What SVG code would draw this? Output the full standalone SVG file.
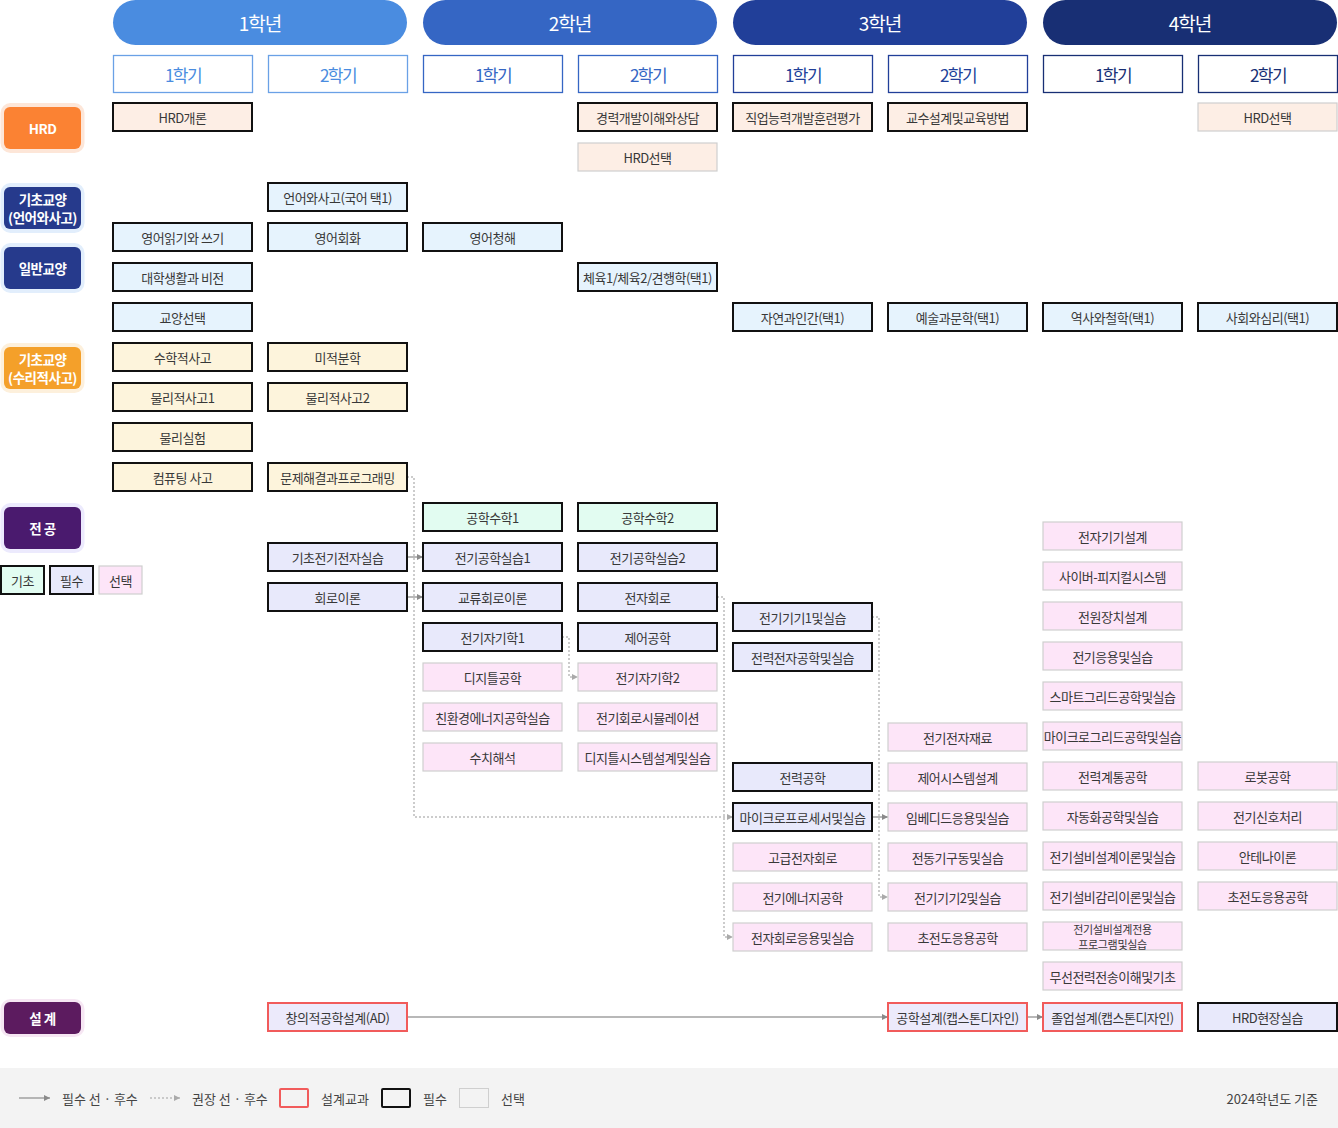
<svg xmlns="http://www.w3.org/2000/svg" width="1338" height="1128" viewBox="0 0 1338 1128">
<defs>
<style>
text{font-family:"Noto Sans CJK KR","Noto Sans",sans-serif;text-anchor:middle;dominant-baseline:central}
.t{font-size:13px;letter-spacing:-0.5px;fill:#383838}
.t2{font-size:11px;letter-spacing:-0.3px;fill:#383838}
.yr{font-size:19px;letter-spacing:-1px;fill:#fff}
.sm{font-size:17px;letter-spacing:-1.5px}
.cat{font-size:13.5px;font-weight:bold;fill:#fff;letter-spacing:-0.5px}
.lg{font-size:13px;fill:#444;text-anchor:start}
rect.n{width:139px;height:28px}
.hrd{fill:#fdeee5}.lib{fill:#e6f3fd}.mat{fill:#fdf4dc}.bas{fill:#e2fcf1}.req{fill:#e8e9fb}.opt{fill:#fde5f8}.des{fill:#eceafb}
.r{stroke:#111;stroke-width:2}
.o{stroke:#cfcfcf;stroke-width:1.2}
.d{stroke:#f15b5b;stroke-width:2}
.sol{fill:none;stroke:#a0a0a0;stroke-width:1.5}
.dot{fill:none;stroke:#bcbcbc;stroke-width:1.5;stroke-dasharray:2 2}
</style>
<marker id="ah" viewBox="0 0 6 6" refX="6" refY="3" markerWidth="6" markerHeight="6" markerUnits="userSpaceOnUse" orient="auto"><path d="M0,0 L6,3 L0,6 Z" fill="#8a8a8a"/></marker>
<marker id="ahl" viewBox="0 0 6 6" refX="6" refY="3" markerWidth="6" markerHeight="6" markerUnits="userSpaceOnUse" orient="auto"><path d="M0,0 L6,3 L0,6 Z" fill="#aaaaaa"/></marker>
</defs>
<rect width="1338" height="1128" fill="#fff"/>

<g id="years">
<rect x="113" y="0" width="294" height="45" rx="22.5" fill="#4a8ce0"/><text class="yr" x="260" y="22">1학년</text>
<rect x="423" y="0" width="294" height="45" rx="22.5" fill="#3566c4"/><text class="yr" x="570" y="22">2학년</text>
<rect x="733" y="0" width="294" height="45" rx="22.5" fill="#213f99"/><text class="yr" x="880" y="22">3학년</text>
<rect x="1043" y="0" width="294" height="45" rx="22.5" fill="#182f74"/><text class="yr" x="1190" y="22">4학년</text>
</g>
<g id="semesters" fill="#fff" stroke-width="1.3">
<rect x="113.5" y="55.5" width="139" height="37" stroke="#6aa1e6"/><text class="sm" x="183" y="74" fill="#4a8ce0">1학기</text>
<rect x="268.5" y="55.5" width="139" height="37" stroke="#6aa1e6"/><text class="sm" x="338" y="74" fill="#4a8ce0">2학기</text>
<rect x="423.5" y="55.5" width="139" height="37" stroke="#3566c4"/><text class="sm" x="493" y="74" fill="#3566c4">1학기</text>
<rect x="578.5" y="55.5" width="139" height="37" stroke="#3566c4"/><text class="sm" x="648" y="74" fill="#3566c4">2학기</text>
<rect x="733.5" y="55.5" width="139" height="37" stroke="#213f99"/><text class="sm" x="803" y="74" fill="#213f99">1학기</text>
<rect x="888.5" y="55.5" width="139" height="37" stroke="#213f99"/><text class="sm" x="958" y="74" fill="#213f99">2학기</text>
<rect x="1043.5" y="55.5" width="139" height="37" stroke="#182f74"/><text class="sm" x="1113" y="74" fill="#182f74">1학기</text>
<rect x="1198.5" y="55.5" width="139" height="37" stroke="#182f74"/><text class="sm" x="1268" y="74" fill="#182f74">2학기</text>
</g>

<g id="categories">
<g id="cat-hrd"><rect x="0.5" y="103" width="84" height="50" rx="10" fill="#fde6d8"/><rect x="4" y="107" width="77" height="42" rx="6" fill="#fb8233"/><text class="cat" x="42.5" y="128">HRD</text></g>
<g id="cat-lang"><rect x="0.5" y="183" width="84" height="50" rx="10" fill="#e2eefc"/><rect x="4" y="187" width="77" height="42" rx="6" fill="#263a8c"/><text class="cat" x="42.5" y="198.5">기초교양</text><text class="cat" x="42.5" y="216.5">(언어와사고)</text></g>
<g id="cat-gen"><rect x="0.5" y="243" width="84" height="50" rx="10" fill="#e2eefc"/><rect x="4" y="247" width="77" height="42" rx="6" fill="#263a8c"/><text class="cat" x="42.5" y="268">일반교양</text></g>
<g id="cat-math"><rect x="0.5" y="343" width="84" height="50" rx="10" fill="#fdf0dc"/><rect x="4" y="347" width="77" height="42" rx="6" fill="#f4a02a"/><text class="cat" x="42.5" y="358.5">기초교양</text><text class="cat" x="42.5" y="376.5">(수리적사고)</text></g>
<g id="cat-major"><rect x="0.5" y="503" width="84" height="50" rx="10" fill="#eceafd"/><rect x="4" y="507" width="77" height="42" rx="6" fill="#4a1a6e"/><text class="cat" x="42.5" y="528">전 공</text></g>
<g id="cat-design"><rect x="0.5" y="999" width="84" height="38" rx="10" fill="#f6e6f3"/><rect x="4" y="1002" width="77" height="32" rx="6" fill="#5c1b5f"/><text class="cat" x="42.5" y="1018">설 계</text></g>
<g id="mini-legend">
<rect x="1" y="566" width="43" height="28" class="bas r"/><text class="t" x="22.5" y="580">기초</text>
<rect x="50" y="566" width="43" height="28" class="req r"/><text class="t" x="71.5" y="580">필수</text>
<rect x="99" y="566" width="43" height="28" class="opt o"/><text class="t" x="120.5" y="580">선택</text>
</g>
</g>

<g id="connectors">
<path class="sol" d="M407,557 H423" marker-end="url(#ah)"/>
<path class="sol" d="M407,597 H423" marker-end="url(#ah)"/>
<path class="dot" d="M407,477 H414 V817 H733" marker-end="url(#ahl)"/>
<path class="dot" d="M562,637 H569 V677 H578" marker-end="url(#ahl)"/>
<path class="dot" d="M717,597 H724 V937 H733" marker-end="url(#ahl)"/>
<path class="dot" d="M872,617 H879 V897 H888" marker-end="url(#ahl)"/>
<path class="sol" d="M872,817 H888" marker-end="url(#ah)"/>
<path class="sol" d="M407,1017 H888" marker-end="url(#ah)"/>
<path class="sol" d="M1027,1017 H1043" marker-end="url(#ah)"/>
</g>

<g id="nodes">
<g id="n1"><rect class="n hrd r" x="113" y="103"/><text class="t" x="182.5" y="117">HRD개론</text></g>
<g id="n2"><rect class="n hrd r" x="578" y="103"/><text class="t" x="647.5" y="117">경력개발이해와상담</text></g>
<g id="n3"><rect class="n hrd o" x="578" y="143"/><text class="t" x="647.5" y="157">HRD선택</text></g>
<g id="n4"><rect class="n hrd r" x="733" y="103"/><text class="t" x="802.5" y="117">직업능력개발훈련평가</text></g>
<g id="n5"><rect class="n hrd r" x="888" y="103"/><text class="t" x="957.5" y="117">교수설계및교육방법</text></g>
<g id="n6"><rect class="n hrd o" x="1198" y="103"/><text class="t" x="1267.5" y="117">HRD선택</text></g>

<g id="n7"><rect class="n lib r" x="268" y="183"/><text class="t" x="337.5" y="197">언어와사고(국어 택1)</text></g>
<g id="n8"><rect class="n lib r" x="113" y="223"/><text class="t" x="182.5" y="237">영어읽기와 쓰기</text></g>
<g id="n9"><rect class="n lib r" x="268" y="223"/><text class="t" x="337.5" y="237">영어회화</text></g>
<g id="n10"><rect class="n lib r" x="423" y="223"/><text class="t" x="492.5" y="237">영어청해</text></g>
<g id="n11"><rect class="n lib r" x="113" y="263"/><text class="t" x="182.5" y="277">대학생활과 비전</text></g>
<g id="n12"><rect class="n lib r" x="578" y="263"/><text class="t" x="647.5" y="277">체육1/체육2/견행학(택1)</text></g>
<g id="n13"><rect class="n lib r" x="113" y="303"/><text class="t" x="182.5" y="317">교양선택</text></g>
<g id="n14"><rect class="n lib r" x="733" y="303"/><text class="t" x="802.5" y="317">자연과인간(택1)</text></g>
<g id="n15"><rect class="n lib r" x="888" y="303"/><text class="t" x="957.5" y="317">예술과문학(택1)</text></g>
<g id="n16"><rect class="n lib r" x="1043" y="303"/><text class="t" x="1112.5" y="317">역사와철학(택1)</text></g>
<g id="n17"><rect class="n lib r" x="1198" y="303"/><text class="t" x="1267.5" y="317">사회와심리(택1)</text></g>

<g id="n18"><rect class="n mat r" x="113" y="343"/><text class="t" x="182.5" y="357">수학적사고</text></g>
<g id="n19"><rect class="n mat r" x="268" y="343"/><text class="t" x="337.5" y="357">미적분학</text></g>
<g id="n20"><rect class="n mat r" x="113" y="383"/><text class="t" x="182.5" y="397">물리적사고1</text></g>
<g id="n21"><rect class="n mat r" x="268" y="383"/><text class="t" x="337.5" y="397">물리적사고2</text></g>
<g id="n22"><rect class="n mat r" x="113" y="423"/><text class="t" x="182.5" y="437">물리실험</text></g>
<g id="n23"><rect class="n mat r" x="113" y="463"/><text class="t" x="182.5" y="477">컴퓨팅 사고</text></g>
<g id="n24"><rect class="n mat r" x="268" y="463"/><text class="t" x="337.5" y="477">문제해결과프로그래밍</text></g>

<g id="n25"><rect class="n bas r" x="423" y="503"/><text class="t" x="492.5" y="517">공학수학1</text></g>
<g id="n26"><rect class="n bas r" x="578" y="503"/><text class="t" x="647.5" y="517">공학수학2</text></g>
<g id="n27"><rect class="n req r" x="268" y="543"/><text class="t" x="337.5" y="557">기초전기전자실습</text></g>
<g id="n28"><rect class="n req r" x="423" y="543"/><text class="t" x="492.5" y="557">전기공학실습1</text></g>
<g id="n29"><rect class="n req r" x="578" y="543"/><text class="t" x="647.5" y="557">전기공학실습2</text></g>
<g id="n30"><rect class="n req r" x="268" y="583"/><text class="t" x="337.5" y="597">회로이론</text></g>
<g id="n31"><rect class="n req r" x="423" y="583"/><text class="t" x="492.5" y="597">교류회로이론</text></g>
<g id="n32"><rect class="n req r" x="578" y="583"/><text class="t" x="647.5" y="597">전자회로</text></g>
<g id="n33"><rect class="n req r" x="423" y="623"/><text class="t" x="492.5" y="637">전기자기학1</text></g>
<g id="n34"><rect class="n req r" x="578" y="623"/><text class="t" x="647.5" y="637">제어공학</text></g>
<g id="n35"><rect class="n opt o" x="423" y="663"/><text class="t" x="492.5" y="677">디지틀공학</text></g>
<g id="n36"><rect class="n opt o" x="578" y="663"/><text class="t" x="647.5" y="677">전기자기학2</text></g>
<g id="n37"><rect class="n opt o" x="423" y="703"/><text class="t" x="492.5" y="717">친환경에너지공학실습</text></g>
<g id="n38"><rect class="n opt o" x="578" y="703"/><text class="t" x="647.5" y="717">전기회로시뮬레이션</text></g>
<g id="n39"><rect class="n opt o" x="423" y="743"/><text class="t" x="492.5" y="757">수치해석</text></g>
<g id="n40"><rect class="n opt o" x="578" y="743"/><text class="t" x="647.5" y="757">디지틀시스템설계및실습</text></g>

<g id="n41"><rect class="n req r" x="733" y="603"/><text class="t" x="802.5" y="617">전기기기1및실습</text></g>
<g id="n42"><rect class="n req r" x="733" y="643"/><text class="t" x="802.5" y="657">전력전자공학및실습</text></g>
<g id="n43"><rect class="n req r" x="733" y="763"/><text class="t" x="802.5" y="777">전력공학</text></g>
<g id="n44"><rect class="n req r" x="733" y="803"/><text class="t" x="802.5" y="817">마이크로프로세서및실습</text></g>
<g id="n45"><rect class="n opt o" x="733" y="843"/><text class="t" x="802.5" y="857">고급전자회로</text></g>
<g id="n46"><rect class="n opt o" x="733" y="883"/><text class="t" x="802.5" y="897">전기에너지공학</text></g>
<g id="n47"><rect class="n opt o" x="733" y="923"/><text class="t" x="802.5" y="937">전자회로응용및실습</text></g>

<g id="n48"><rect class="n opt o" x="888" y="723"/><text class="t" x="957.5" y="737">전기전자재료</text></g>
<g id="n49"><rect class="n opt o" x="888" y="763"/><text class="t" x="957.5" y="777">제어시스템설계</text></g>
<g id="n50"><rect class="n opt o" x="888" y="803"/><text class="t" x="957.5" y="817">임베디드응용및실습</text></g>
<g id="n51"><rect class="n opt o" x="888" y="843"/><text class="t" x="957.5" y="857">전동기구동및실습</text></g>
<g id="n52"><rect class="n opt o" x="888" y="883"/><text class="t" x="957.5" y="897">전기기기2및실습</text></g>
<g id="n53"><rect class="n opt o" x="888" y="923"/><text class="t" x="957.5" y="937">초전도응용공학</text></g>

<g id="n54"><rect class="n opt o" x="1043" y="522"/><text class="t" x="1112.5" y="536">전자기기설계</text></g>
<g id="n55"><rect class="n opt o" x="1043" y="562"/><text class="t" x="1112.5" y="576">사이버-피지컬시스템</text></g>
<g id="n56"><rect class="n opt o" x="1043" y="602"/><text class="t" x="1112.5" y="616">전원장치설계</text></g>
<g id="n57"><rect class="n opt o" x="1043" y="642"/><text class="t" x="1112.5" y="656">전기응용및실습</text></g>
<g id="n58"><rect class="n opt o" x="1043" y="682"/><text class="t" x="1112.5" y="696">스마트그리드공학및실습</text></g>
<g id="n59"><rect class="n opt o" x="1043" y="722"/><text class="t" x="1112.5" y="736">마이크로그리드공학및실습</text></g>
<g id="n60"><rect class="n opt o" x="1043" y="762"/><text class="t" x="1112.5" y="776">전력계통공학</text></g>
<g id="n61"><rect class="n opt o" x="1043" y="802"/><text class="t" x="1112.5" y="816">자동화공학및실습</text></g>
<g id="n62"><rect class="n opt o" x="1043" y="842"/><text class="t" x="1112.5" y="856">전기설비설계이론및실습</text></g>
<g id="n63"><rect class="n opt o" x="1043" y="882"/><text class="t" x="1112.5" y="896">전기설비감리이론및실습</text></g>
<g id="n64"><rect class="n opt o" x="1043" y="922"/><text class="t2" x="1112.5" y="928.5">전기설비설계전용</text><text class="t2" x="1112.5" y="943.5">프로그램및실습</text></g>
<g id="n65"><rect class="n opt o" x="1043" y="962"/><text class="t" x="1112.5" y="976">무선전력전송이해및기초</text></g>

<g id="n66"><rect class="n opt o" x="1198" y="762"/><text class="t" x="1267.5" y="776">로봇공학</text></g>
<g id="n67"><rect class="n opt o" x="1198" y="802"/><text class="t" x="1267.5" y="816">전기신호처리</text></g>
<g id="n68"><rect class="n opt o" x="1198" y="842"/><text class="t" x="1267.5" y="856">안테나이론</text></g>
<g id="n69"><rect class="n opt o" x="1198" y="882"/><text class="t" x="1267.5" y="896">초전도응용공학</text></g>

<g id="n70"><rect class="n des d" x="268" y="1003"/><text class="t" x="337.5" y="1017">창의적공학설계(AD)</text></g>
<g id="n71"><rect class="n des d" x="888" y="1003"/><text class="t" x="957.5" y="1017">공학설계(캡스톤디자인)</text></g>
<g id="n72"><rect class="n des d" x="1043" y="1003"/><text class="t" x="1112.5" y="1017">졸업설계(캡스톤디자인)</text></g>
<g id="n73"><rect class="n req r" x="1198" y="1003"/><text class="t" x="1267.5" y="1017">HRD현장실습</text></g>
</g>

<g id="legend">
<rect x="0" y="1068" width="1338" height="60" fill="#f3f3f3"/>
<path class="sol" d="M19,1098 H50" marker-end="url(#ah)"/>
<text class="lg" x="62" y="1098">필수 선 · 후수</text>
<path class="dot" d="M150,1098 H180" marker-end="url(#ahl)"/>
<text class="lg" x="192" y="1098">권장 선 · 후수</text>
<rect x="280" y="1089" width="28" height="18" rx="1" fill="none" stroke="#f15b5b" stroke-width="2"/>
<text class="lg" x="321" y="1098">설계교과</text>
<rect x="382" y="1089" width="28" height="18" rx="1" fill="none" stroke="#111" stroke-width="2"/>
<text class="lg" x="423" y="1098">필수</text>
<rect x="459.5" y="1088.5" width="29" height="19" fill="none" stroke="#cfcfcf" stroke-width="1"/>
<text class="lg" x="501" y="1098">선택</text>
<text class="lg" x="1318" y="1098" style="text-anchor:end" fill="#333">2024학년도 기준</text>
</g>
</svg>
